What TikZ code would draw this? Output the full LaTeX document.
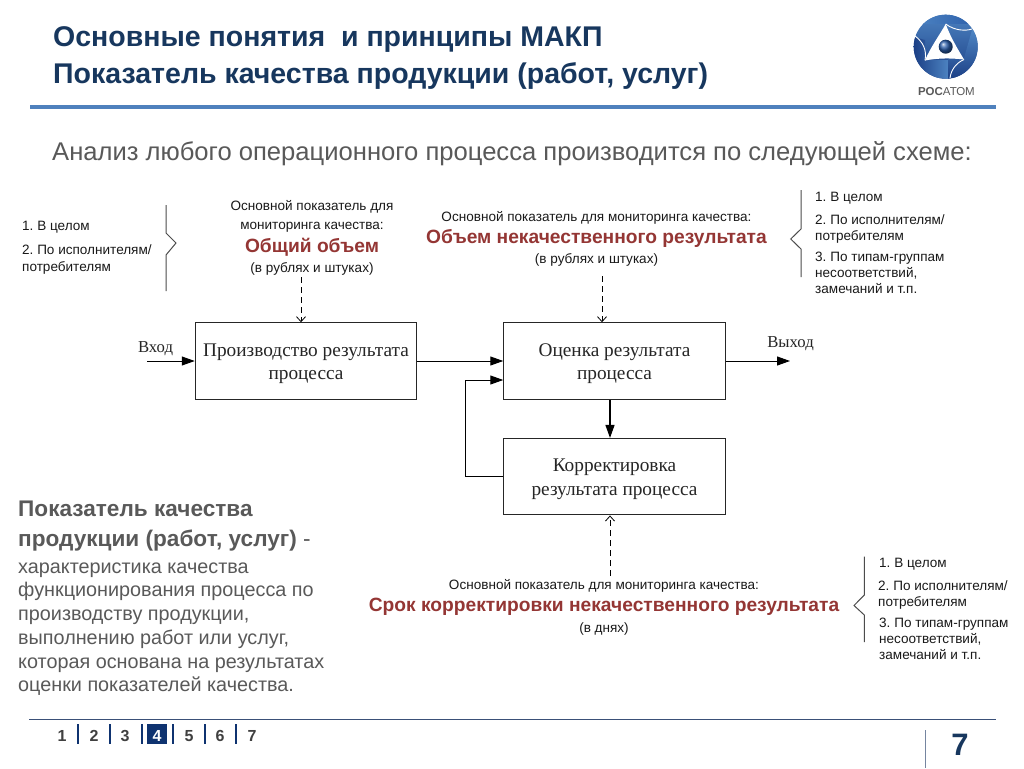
\documentclass[tikz,border=0pt]{standalone}
\usepackage{fontspec}
\setmainfont{Liberation Sans}
\newfontfamily\serifcyr{Liberation Serif}
\usetikzlibrary{arrows.meta,calc}
\frenchspacing
\definecolor{titleblue}{HTML}{17375E}
\definecolor{barblue}{HTML}{4F81BD}
\definecolor{navy}{HTML}{0F3370}
\definecolor{darkred}{HTML}{943634}
\definecolor{greytext}{HTML}{595959}
\definecolor{bodygrey}{HTML}{404040}
\definecolor{footline}{HTML}{3A5078}
\definecolor{lgA}{HTML}{4F86C4}
\definecolor{lgB}{HTML}{2A5CA8}
\definecolor{lgC}{HTML}{16387F}
\newcommand{\firstline}{\rule{0pt}{18pt}}
\tikzset{
  x=1pt,y=-1pt,
  txt/.style={inner sep=0pt,anchor=base west,align=left},
  small/.style={txt,font=\fontsize{13.55}{15}\selectfont,text=black!90},
  smallc/.style={inner sep=0pt,anchor=base,font=\fontsize{13.55}{15}\selectfont,text=black!90},
  big/.style={inner sep=0pt,anchor=base,font=\fontsize{19.2}{22}\bfseries\selectfont,text=darkred},
  procbox/.style={draw=black!85,line width=1pt,inner sep=0pt,align=center,minimum width=221.5pt,minimum height=76.5pt,
     font=\serifcyr\fontsize{19.3}{23.5}\selectfont,text=black!85},
  flow/.style={draw=black,line width=1pt,-{Triangle[length=13pt,width=9pt]}},
  dashflow/.style={draw=black,line width=0.8pt,dash pattern=on 6pt off 4pt,-{Straight Barb[length=5pt,width=9pt]}},
  brace/.style={draw=black!70,line width=1pt},
  io/.style={inner sep=0pt,anchor=base,font=\serifcyr\fontsize{16.7}{18}\selectfont,text=black!85},
  pg/.style={inner sep=0pt,anchor=base,font=\fontsize{16}{18}\bfseries\selectfont,text=bodygrey},
  pgsep/.style={draw=navy,line width=2pt},
  leftt/.style={txt,font=\fontsize{19.8}{24}\selectfont,text=greytext},
  titlet/.style={txt,font=\fontsize{28.5}{32}\bfseries\selectfont,text=titleblue},
}
\begin{document}
\begin{tikzpicture}
\useasboundingbox (0,0) rectangle (1024,768);
\fill[white] (0,0) rectangle (1024,768);
% title
\node[titlet] (t1) at (53,47) {Основные понятия\ \ и принципы МАКП};
\node[titlet] (t2) at (53,83) {Показатель качества продукции (работ, услуг)};
\fill[barblue] (30,105) rectangle (996,108.5);
% logo
\begin{scope}
\clip (945.7,46.7) circle (32);
\shade[top color=lgA,bottom color=lgC] (910,10) rectangle (982,84);
\shade[left color=lgC,right color=lgA] (910,36) -- (925,40) -- (925,60) -- (950,60) -- (950,84) -- (910,84) -- cycle;
\shade[top color=lgA,bottom color=lgC] (948,58) -- (964,58) -- (972,30) -- (982,30) -- (982,84) -- (948,84) -- cycle;
\shade[left color=lgA,right color=lgB] (910,10) rectangle (982,24);
\end{scope}
\fill[white] (945.7,24) .. controls (950,36) and (957,48) .. (964,59.5) .. controls (951,58) and (938,58) .. (925,60.5) .. controls (930,48) and (939,36) .. (945.7,24) -- cycle;
\shade[ball color=lgB] (945.7,46.7) circle (7);
\draw[white,line width=0.9pt] (945.7,24) .. controls (955,31) and (966,31) .. (972,29);
\draw[white,line width=0.9pt] (964,59.5) .. controls (956,63) and (951,70) .. (950,78);
\draw[white,line width=0.9pt] (925,60.5) .. controls (927,50) and (923,42) .. (915,36);
\node[inner sep=0pt,anchor=base west,font=\fontsize{11.5}{12}\selectfont,text=black!65] (logo) at (918,95) {\textbf{РОС}АТОМ};
% subtitle
\node[txt,font=\fontsize{25.6}{28}\selectfont,text=greytext] (sub) at (52,160) {Анализ любого операционного процесса производится по следующей схеме:};
% boxes
\node[procbox] (b1) at (306,361) {\firstline Производство результата\\процесса};
\node[procbox] (b2) at (614.5,361) {\firstline Оценка результата\\процесса};
\node[procbox] (b3) at (614.5,476.7) {\firstline Корректировка\\результата процесса};
% io
\node[io] (in) at (155.5,352) {Вход};
\node[io] (out) at (790.5,347) {Выход};
\coordinate (inS) at (147,361);
\coordinate (outE) at (790,361);
\draw[flow] (inS) -- (inS -| b1.west);
\draw[flow] (b1.east |- 0,361) -- (b2.west |- 0,361);
\draw[flow] (b2.east |- 0,361) -- (outE);
\draw[flow] (b3.west |- 0,476) -- (465.3,476) -- (465.3,380) -- (b2.west |- 0,380);
\draw[flow,line width=1.2pt] (b2.south -| 610,0) -- (b3.north -| 610,0);
% dashed
\coordinate (d1) at (301,277);
\coordinate (d2) at (602,276);
\coordinate (d3) at (610,576);
\draw[dashflow] (d1) -- (d1 |- b1.north);
\draw[dashflow] (d2) -- (d2 |- b2.north);
\draw[dashflow] (d3) -- (d3 |- b3.south);
% top left annotation
\node[small] (a1) at (22,230) {1. В целом};
\node[small] (a2) at (22,254) {2. По исполнителям/};
\node[small] (a3) at (22,271) {потребителям};
\draw[brace] (166,205) -- (166,233) -- (176,243) -- (166,255) -- (166,291);
\node[smallc] (c1) at (312,210) {Основной показатель для};
\node[smallc] (c2) at (312,229) {мониторинга качества:};
\node[big] (c3) at (312,252) {Общий объем};
\node[smallc] (c4) at (312,272) {(в рублях и штуках)};
\node[smallc] (e1) at (596.5,221) {Основной показатель для мониторинга качества:};
\node[big] (e2) at (596.5,243) {Объем некачественного результата};
\node[smallc] (e3) at (596.5,263) {(в рублях и штуках)};
\node[small] (f1) at (815,201) {1. В целом};
\node[small] (f2) at (815,224) {2. По исполнителям/};
\node[small] (f3) at (815,240) {потребителям};
\node[small] (f4) at (815,261) {3. По типам-группам};
\node[small] (f5) at (815,277) {несоответствий,};
\node[small] (f6) at (815,293) {замечаний и т.п.};
\draw[brace] (801,190) -- (801,229) -- (790.7,239) -- (801,249) -- (801,277);
\node[smallc] (g1) at (604,589) {Основной показатель для мониторинга качества:};
\node[big] (g2) at (604,611) {Срок корректировки некачественного результата};
\node[smallc] (g3) at (604,632) {(в днях)};
\node[small] (h1) at (879,567) {1. В целом};
\node[small] (h2) at (878,590) {2. По исполнителям/};
\node[small] (h3) at (878,606) {потребителям};
\node[small] (h4) at (879,627) {3. По типам-группам};
\node[small] (h5) at (879,643) {несоответствий,};
\node[small] (h6) at (879,659) {замечаний и т.п.};
\draw[brace] (864.3,556.7) -- (864.3,595) -- (854,605.5) -- (864.3,615) -- (864.3,642);
% left text
\node[txt,font=\fontsize{22.6}{24}\bfseries\selectfont,text=greytext] (l1) at (18,516) {Показатель качества};
\node[txt,font=\fontsize{22.6}{24}\selectfont,text=greytext] (l2) at (18,546) {\textbf{продукции (работ, услуг)} -};
\node[leftt] (l3) at (18,573) {характеристика качества};
\node[leftt] (l4) at (18,596) {функционирования процесса по};
\node[leftt] (l5) at (18,620) {производству продукции,};
\node[leftt] (l6) at (18,644) {выполнению работ или услуг,};
\node[leftt] (l7) at (18,668) {которая основана на результатах};
\node[leftt] (l8) at (18,691) {оценки показателей качества.};
% footer
\draw[footline,line width=1pt] (29,719.5) -- (996,719.5);
\draw[footline!70,line width=0.8pt] (925,730) -- (925,768);
\fill[navy] (147.3,724) rectangle (167.3,744);
\node[pg] (p1) at (62,741) {1};
\node[pg] (p2) at (94,741) {2};
\node[pg] (p3) at (125,741) {3};
\node[pg,text=white] (p4) at (157,741) {4};
\node[pg] (p5) at (189,741) {5};
\node[pg] (p6) at (220,741) {6};
\node[pg] (p7) at (252,741) {7};
\foreach \x in {78.3,110,141.7,173,204.7,236.3} \draw[pgsep] (\x,724) -- (\x,744);
\node[inner sep=0pt,anchor=base,font=\fontsize{31}{34}\bfseries\selectfont,text=titleblue] (num) at (960,755) {7};
\end{tikzpicture}
\end{document}
